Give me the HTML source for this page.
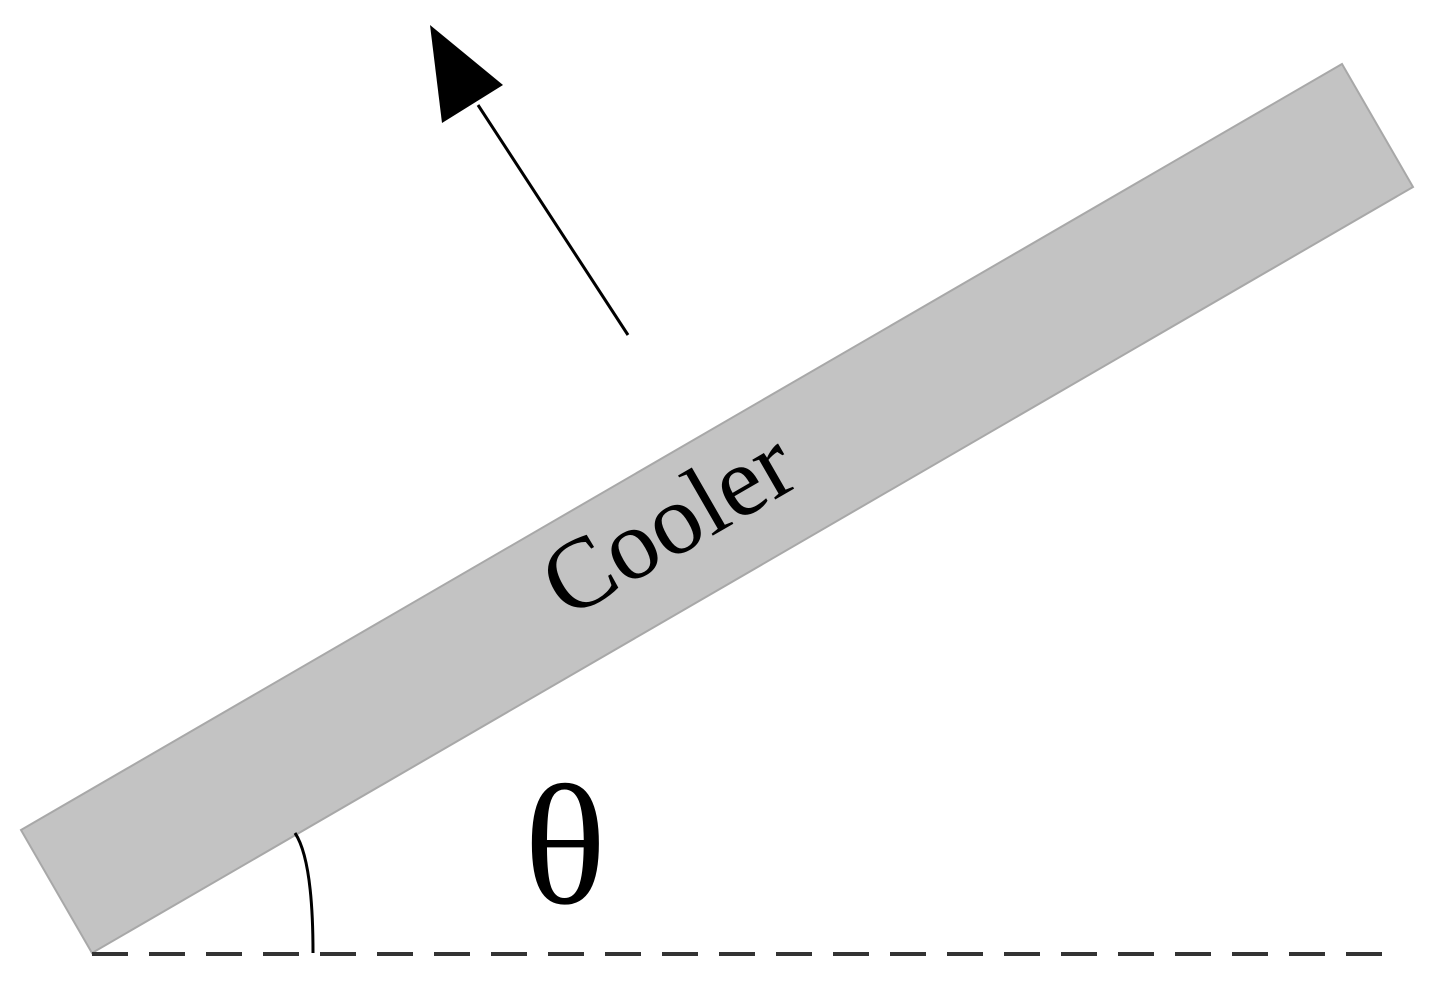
<!DOCTYPE html>
<html><head><style>body{margin:0;background:#fff}</style></head><body>
<svg width="1431" height="987" viewBox="0 0 1431 987" xmlns="http://www.w3.org/2000/svg">
<polygon points="21,830 1342,64 1413,187 92,953" fill="#c3c3c3" stroke="#a8a8a8" stroke-width="2"/>
<text x="673" y="532" font-family="Liberation Serif, serif" font-size="100" text-anchor="middle" dominant-baseline="middle" transform="rotate(-30 673 532)" fill="#000">Cooler</text>
<line x1="92" y1="954" x2="1390" y2="954" stroke="#333" stroke-width="4" stroke-dasharray="36,21"/>
<path d="M295,833 Q313,860 313,953" fill="none" stroke="#000" stroke-width="3"/>
<text x="565" y="903" font-family="Liberation Serif, serif" font-size="172" text-anchor="middle" fill="#000">θ</text>
<line x1="628" y1="335" x2="478" y2="105" stroke="#000" stroke-width="3"/>
<polygon points="430,25 503,85 442,123" fill="#000"/>
</svg>
</body></html>
